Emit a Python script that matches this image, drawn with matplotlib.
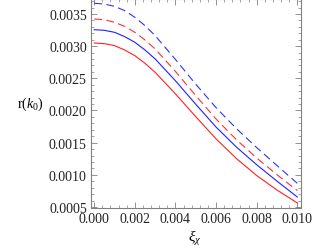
import numpy as np
import matplotlib
matplotlib.use("Agg")
import matplotlib.pyplot as plt
from matplotlib.ticker import MultipleLocator, FormatStrFormatter

plt.rcParams["font.family"] = ["Liberation Serif", "DejaVu Serif"]
plt.rcParams["mathtext.fontset"] = "custom"
plt.rcParams["mathtext.rm"] = "Liberation Serif"
plt.rcParams["mathtext.it"] = "Liberation Serif:italic"

# values
xi = [0.0000, 0.0005, 0.0010, 0.0015, 0.0020, 0.0025, 0.0030, 0.0040,
      0.0050, 0.0060, 0.0070, 0.0080, 0.0090, 0.0100]
blue_dashed = [0.003666, 0.003655, 0.003619, 0.003552, 0.003448, 0.003319, 0.003163,
               0.002793, 0.002408, 0.002043, 0.001718, 0.001423, 0.001143, 0.000868]
red_dashed = [0.003422, 0.003412, 0.003370, 0.003308, 0.003215, 0.003096, 0.002956,
              0.002606, 0.002231, 0.001866, 0.001546, 0.001261, 0.001001, 0.000754]
blue_solid = [0.003256, 0.003246, 0.003215, 0.003148, 0.003060, 0.002940, 0.002801,
              0.002461, 0.002096, 0.001741, 0.001431, 0.001156, 0.000901, 0.000655]
red_solid = [0.003049, 0.003039, 0.003008, 0.002940, 0.002852, 0.002733, 0.002593,
             0.002258, 0.001903, 0.001558, 0.001253, 0.000988, 0.000763, 0.000562]

fig = plt.figure(figsize=(3.13, 2.51), dpi=100)
ax = fig.add_axes([91 / 313, 1 - 209 / 251, 210 / 313, 209 / 251])

lw = 0.8
ax.plot(xi, red_solid, color="#ff2020", lw=lw)
ax.plot(xi, blue_solid, color="#2020ff", lw=lw)
ax.plot(xi, red_dashed, color="#ff3030", lw=lw, linestyle=(0, (7, 4)))
ax.plot(xi, blue_dashed, color="#3030ff", lw=lw, linestyle=(0, (7, 4)))

ax.set_xlim(-0.00016, 0.01018)
ax.set_ylim(0.000484, 0.003733)

ax.xaxis.set_major_locator(MultipleLocator(0.002))
ax.xaxis.set_minor_locator(MultipleLocator(0.0004))
ax.yaxis.set_major_locator(MultipleLocator(0.0005))
ax.yaxis.set_minor_locator(MultipleLocator(0.0001))
ax.xaxis.set_major_formatter(FormatStrFormatter("%.3f"))
ax.yaxis.set_major_formatter(FormatStrFormatter("%.4f"))

gray = "#808080"
for s in ax.spines.values():
    s.set_color(gray)
    s.set_linewidth(0.8)
ax.tick_params(which="both", direction="in", top=True, right=True, color=gray,
               labelsize=10, labelcolor="#222222")
ax.tick_params(which="major", length=4, width=0.6, pad=3)
ax.tick_params(which="minor", length=2, width=0.5)

ax.set_ylabel(r"r$(k_0)$", rotation=0, fontsize=10, ha="center", va="center")
ax.yaxis.set_label_coords(-0.29, 0.5)
ax.set_xlabel(r"$\xi_\chi$", fontsize=11, ha="center", va="center")
ax.xaxis.set_label_coords(0.495, -0.14)

fig.savefig("out.png", dpi=100)
